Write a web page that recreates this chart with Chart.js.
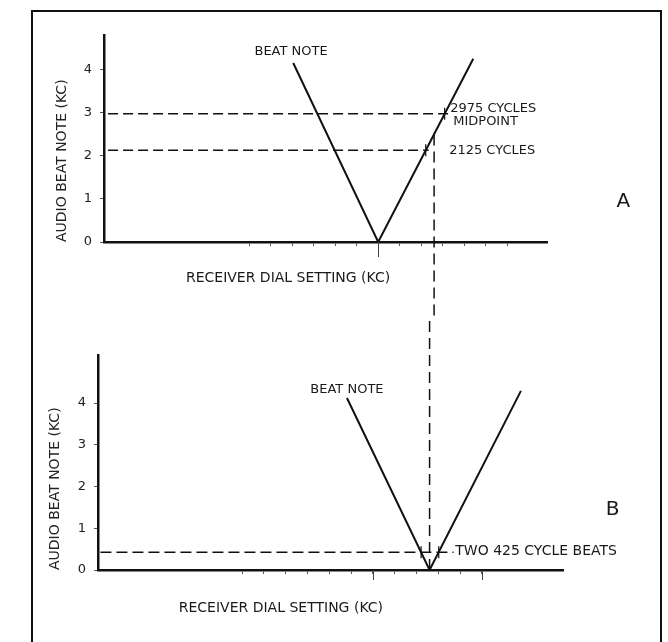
<!DOCTYPE html>
<html lang="en">

<head>
    <meta charset="UTF-8">
    <title>Beat Note</title>
    <script src="https://cdn.jsdelivr.net/npm/chart.js"></script>
    <style>
        body {
            margin: 0;
            background: #fff;
        }

        #page {
            position: relative;
            width: 668px;
            height: 642px;
            overflow: hidden;
            background: #fff;
        }

        #frame {
            position: absolute;
            left: 31px;
            top: 10px;
            width: 627px;
            height: 700px;
            border: 2.5px solid #111;
        }

        canvas {
            position: absolute;
            left: 0;
        }
    </style>
</head>

<body>
    <div id="page">
        <div id="frame"></div>
        <canvas id="chartA" width="668" height="321" style="top:0"></canvas>
        <canvas id="chartB" width="668" height="321" style="top:321px"></canvas>
    </div>
    <script>
        // beat note (kc) against receiver dial setting (kc)
        const beatTicks = [0, 1, 2, 3, 4];
        const dialTicksA = [4, 5, 6, 7, 8, 9, 10, 11, 12, 13, 14, 15, 16];
        const dialTicksB = [4, 5, 6, 7, 8, 9, 10, 11, 12, 13, 14, 15];

        // panel A: single beat note
        const dialA = [6.05, 10, 14.42];
        const beatA = [4.15, 0, 4.25];
        const upperA = 2.975;   // 2975 cycles
        const lowerA = 2.125;   // 2125 cycles
        const upperEndA = [-2.56, 13.25];
        const lowerEndA = [-2.56, 12.35];
        const crossDialA = [13.09, 12.21];
        const midDial = 12.6;
        const midBeatA = [2.49, -2];

        // panel B: two 425 cycle beats
        const dialB = [8.81, 12.6, 16.79];
        const beatB = [4.12, 0, 4.29];
        const levelB = 0.425;
        const levelEndB = [-2.5, 13.7];
        const crossDialB = [12.21, 13.02];
        const midBeatB = [0, 7];

        Chart.defaults.font.family = '"DejaVu Sans", sans-serif';
        Chart.defaults.color = '#222';

        const ink = '#111';

        const notes = {
            id: 'notes',
            afterDraw(chart, args, opts) {
                const { ctx, chartArea } = chart;
                const x = chart.scales.x, y = chart.scales.y;
                ctx.save();
                ctx.fillStyle = '#1a1a1a';
                ctx.textBaseline = 'middle';
                opts.items.forEach(n => {
                    ctx.font = n.size + 'px "DejaVu Sans"';
                    ctx.textAlign = n.align || 'center';
                    ctx.fillText(n.text, x.getPixelForValue(n.x), y.getPixelForValue(n.y));
                });
                // the few longer dial ticks
                ctx.strokeStyle = '#444';
                ctx.lineWidth = 1;
                opts.longTicks.forEach(v => {
                    const px = Math.round(x.getPixelForValue(v)) + 0.5;
                    ctx.beginPath();
                    ctx.moveTo(px, chartArea.bottom);
                    ctx.lineTo(px, chartArea.bottom + opts.longTickLength);
                    ctx.stroke();
                });
                ctx.restore();
            }
        };

        const pts = (xs, ys) => xs.map((v, i) => ({ x: v, y: ys[i] }));

        function lineSet(data, width, dash, clip) {
            return {
                data: data,
                showLine: true,
                borderColor: ink,
                borderWidth: width,
                borderDash: dash,
                pointRadius: 0,
                tension: 0,
                clip: clip
            };
        }

        function crossSet(data) {
            return {
                data: data,
                showLine: false,
                pointStyle: 'line',
                rotation: 90,
                pointRadius: 6,
                borderColor: ink,
                borderWidth: 1.2
            };
        }

        function makeOptions(cfg) {
            return {
                responsive: false,
                animation: false,
                devicePixelRatio: 1,
                layout: {
                    padding: { left: cfg.padLeft, right: cfg.padRight, top: cfg.padTop, bottom: 0 }
                },
                plugins: {
                    legend: { display: false },
                    tooltip: { enabled: false },
                    notes: { items: cfg.items, longTicks: cfg.longTicks, longTickLength: cfg.longTickLength }
                },
                scales: {
                    x: {
                        type: 'linear',
                        min: cfg.xMin,
                        max: cfg.xMax,
                        afterBuildTicks: s => { s.ticks = cfg.xTicks.map(v => ({ value: v })); },
                        afterFit: s => { s.height = cfg.xHeight; },
                        ticks: { display: false, autoSkip: false },
                        grid: { drawOnChartArea: false, drawTicks: true, tickLength: 4, tickColor: '#555', tickWidth: 1 },
                        border: { color: ink, width: 2.5 }
                    },
                    y: {
                        type: 'linear',
                        min: 0,
                        max: cfg.yMax,
                        afterBuildTicks: s => { s.ticks = beatTicks.map(v => ({ value: v })); },
                        afterFit: s => { s.width = cfg.yWidth; },
                        ticks: { padding: 8, font: { size: 13 }, color: '#222' },
                        grid: { drawOnChartArea: false, drawTicks: true, tickLength: 4, tickColor: '#555', tickWidth: 1 },
                        border: { color: ink, width: 2.5 },
                        title: {
                            display: true,
                            text: 'AUDIO BEAT NOTE (KC)',
                            align: 'start',
                            padding: 0,
                            font: { size: 14 },
                            color: '#222'
                        }
                    }
                }
            };
        }

        new Chart(document.getElementById('chartA'), {
            type: 'scatter',
            data: {
                datasets: [
                    lineSet(pts(dialA, beatA), 2, [], undefined),
                    lineSet(pts(upperEndA, [upperA, upperA]), 1.5, [10, 5], undefined),
                    lineSet(pts(lowerEndA, [lowerA, lowerA]), 1.5, [10, 5], undefined),
                    lineSet(pts([midDial, midDial], midBeatA), 1.5, [11, 6], false),
                    crossSet(pts(crossDialA, [upperA, lowerA]))
                ]
            },
            options: makeOptions({
                padLeft: 54, padRight: 121, padTop: 35,
                yWidth: 50, xHeight: 79,
                xMin: -2.75, xMax: 17.85, yMax: 4.8,
                xTicks: dialTicksA,
                longTicks: [10], longTickLength: 15,
                items: [
                    { text: 'BEAT NOTE', x: 5.95, y: 4.41, size: 13 },
                    { text: '2975 CYCLES', x: 13.35, y: 3.09, size: 13, align: 'left' },
                    { text: 'MIDPOINT', x: 13.49, y: 2.78, size: 13, align: 'left' },
                    { text: '2125 CYCLES', x: 13.3, y: 2.13, size: 13, align: 'left' },
                    { text: 'A', x: 21.4, y: 0.93, size: 20 },
                    { text: 'RECEIVER DIAL SETTING (KC)', x: 5.81, y: -0.84, size: 14 }
                ]
            }),
            plugins: [notes]
        });

        new Chart(document.getElementById('chartB'), {
            type: 'scatter',
            data: {
                datasets: [
                    lineSet(pts(dialB, beatB), 2, [], undefined),
                    lineSet(pts(levelEndB, [levelB, levelB]), 1.5, [11, 5], undefined),
                    lineSet(pts([midDial, midDial], midBeatB), 1.5, [11, 6], false),
                    crossSet(pts(crossDialB, [levelB, levelB]))
                ]
            },
            options: makeOptions({
                padLeft: 47, padRight: 105, padTop: 34,
                yWidth: 51, xHeight: 72,
                xMin: -2.61, xMax: 18.72, yMax: 5.15,
                xTicks: dialTicksB,
                longTicks: [10, 15], longTickLength: 10,
                items: [
                    { text: 'BEAT NOTE', x: 8.81, y: 4.31, size: 13 },
                    { text: 'TWO 425 CYCLE BEATS', x: 13.78, y: 0.455, size: 14, align: 'left' },
                    { text: 'B', x: 21.0, y: 1.44, size: 20 },
                    { text: 'RECEIVER DIAL SETTING (KC)', x: 5.78, y: -0.93, size: 14 }
                ]
            }),
            plugins: [notes]
        });
    </script>
</body>

</html>
